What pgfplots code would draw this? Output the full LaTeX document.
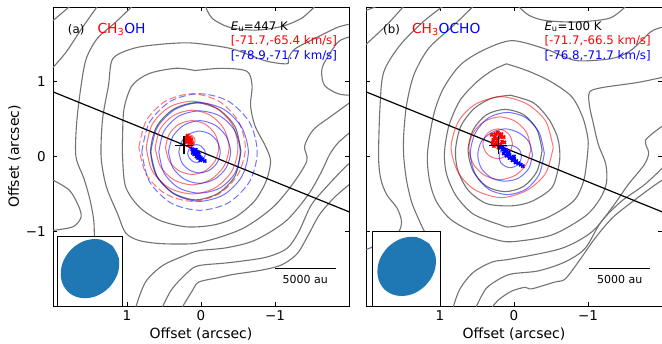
\documentclass[border=0pt]{standalone}
\usepackage{pgfplots}
\pgfplotsset{compat=1.18}
\usepackage{fontspec}
\setmainfont{DejaVu Sans}
\definecolor{cgray}{RGB}{115,115,115}
\definecolor{beam}{RGB}{31,119,180}
\tikzset{
 txt/.style={anchor=base west, inner sep=0pt, font=\fontsize{11.8bp}{13bp}\selectfont},
 big/.style={anchor=base west, inner sep=0pt, font=\fontsize{13.8bp}{16bp}\selectfont},
}
\pgfplotsset{
 panel/.style={
   width=296bp, height=299bp, scale only axis,
   xmin=-2, xmax=2, ymin=-2, ymax=2, x dir=reverse,
   xtick={-1,0,1}, ytick={-1,0,1},
   xticklabels={−1,0,1},
   tick align=inside, tick pos=both, ticklabel pos=left,
   major tick length=4bp,
   every tick/.style={black, line width=0.8bp},
   axis line style={line width=0.9bp},
   tick label style={font=\fontsize{13.5bp}{16bp}\selectfont},
   xticklabel style={anchor=north, inner sep=0pt, yshift=-4bp},
   yticklabel style={anchor=east, inner sep=0pt, xshift=-7bp},
   label style={font=\fontsize{14bp}{16bp}\selectfont},
   xlabel={Offset (arcsec)},
   xlabel style={at={(axis description cs:0.5,-0.0736)}, anchor=north, inner sep=0pt},
   clip=true,
 },
 gc/.style={cgray, line width=1.1bp, smooth, tension=0.5, no markers},
 rc/.style={red, draw opacity=0.55, line width=1bp, smooth, tension=0.5, no markers},
 bc/.style={blue, draw opacity=0.55, line width=1bp, smooth, tension=0.5, no markers},
 dsh/.style={dash pattern=on 7bp off 3bp},
 rm/.style={only marks, mark=x, mark size=2.2bp, red, line width=1.6bp},
 bm/.style={only marks, mark=x, mark size=2.2bp, blue, line width=1.6bp},
}
\begin{document}
\begin{tikzpicture}
\path[use as bounding box] (0,0) rectangle (662bp,344bp);
%================ PANEL A
\begin{axis}[panel, at={(53bp,38bp)}, anchor=south west,
  yticklabels={−1,0,1},
  ylabel={Offset (arcsec)},
  ylabel style={at={(axis description cs:-0.108,0.5)}, anchor=south, inner sep=0pt}]
% gray contours
\addplot[gc] coordinates {(-0.54,0.07) (-0.46,0.40) (-0.235,0.63) (0.07,0.72) (0.375,0.63) (0.60,0.40) (0.68,0.07) (0.60,-0.26) (0.375,-0.49) (0.07,-0.58) (-0.235,-0.49) (-0.46,-0.26) (-0.54,0.07)};
\addplot[gc] coordinates {(0.08,1.15) (0.34,1.18) (0.70,1.11) (0.93,0.95) (1.04,0.64) (1.06,0.25) (1.06,0.0) (1.02,-0.40) (0.84,-0.67) (0.57,-0.85) (0.21,-0.94) (-0.15,-0.92) (-0.45,-0.82) (-0.72,-0.60) (-0.88,-0.33) (-0.94,-0.06) (-0.87,0.14) (-0.73,0.41) (-0.67,0.68) (-0.69,0.95) (-0.62,1.14) (-0.29,1.18) (0.08,1.15)};
\addplot[gc] coordinates {(-2.01,0.72) (-1.76,0.54) (-1.52,0.36) (-1.40,0.14) (-1.43,-0.06) (-1.23,-0.38) (-0.96,-0.69) (-0.55,-0.97) (0.0,-1.15) (0.34,-1.17) (0.61,-1.16) (0.85,-1.12) (1.02,-1.02) (1.13,-0.76) (1.28,-0.40) (1.35,0.0) (1.33,0.50) (1.25,0.95) (1.19,1.31) (0.90,1.45) (0.56,1.50) (0.25,1.52) (0.03,1.51) (-0.42,1.44) (-0.87,1.28) (-1.16,1.24) (-1.18,1.31) (-1.27,1.44) (-1.58,1.60) (-1.85,1.73) (-2.01,1.77)};
\addplot[gc] coordinates {(0.93,2.01) (1.15,1.80) (1.40,1.58) (1.55,1.31) (1.62,0.95) (1.68,0.45) (1.69,0.0) (1.58,-0.30) (1.50,-0.58) (1.45,-0.85) (1.44,-1.12) (1.44,-1.5)};
\addplot[gc] coordinates {(0.88,-2.01) (0.75,-1.68) (0.52,-1.46) (0.21,-1.32) (0.03,-1.26) (-0.35,-1.22) (-0.73,-1.12) (-1.14,-0.87) (-1.45,-0.51) (-1.63,-0.20) (-1.74,0.03) (-1.85,0.18) (-2.01,0.32)};
\addplot[gc] coordinates {(0.52,-2.01) (0.39,-1.77) (0.18,-1.55) (0.03,-1.46) (-0.38,-1.42) (-0.87,-1.35) (-1.16,-1.23) (-1.32,-1.01) (-1.49,-0.65) (-1.72,-0.38) (-1.94,-0.15) (-2.01,-0.09)};
\addplot[gc] coordinates {(0.25,-2.01) (0.12,-1.80) (0.03,-1.68) (-0.24,-1.62) (-0.42,-1.58) (-0.82,-1.52) (-1.09,-1.45) (-1.30,-1.30) (-1.45,-1.05) (-1.60,-0.78) (-1.80,-0.55) (-2.01,-0.37)};
\addplot[gc] coordinates {(-2.01,1.60) (-1.85,1.53) (-1.67,1.26) (-1.63,1.13) (-1.67,0.95) (-1.85,0.84) (-2.01,0.82)};
\addplot[gc] coordinates {(-0.06,2.01) (-0.15,1.85) (-0.38,1.73) (-0.73,1.69) (-1.09,1.74) (-1.36,1.85) (-1.54,2.01)};
\addplot[gc] coordinates {(2.01,-0.31) (1.78,-0.45) (1.66,-0.65) (1.62,-0.81) (1.73,-0.94) (2.01,-0.99)};
\addplot[gc] coordinates {(1.40,2.01) (1.62,1.70) (1.82,1.40) (2.01,1.18)};
\addplot[gc] coordinates {(1.77,2.01) (2.01,1.81)};
% black line
\addplot[black, line width=1.2bp] coordinates {(2,0.865) (-2,-0.74)};
% red contours
\addplot[rc] coordinates {(0.24,0.21) (0.23,0.25) (0.20,0.28) (0.16,0.29) (0.12,0.28) (0.09,0.25) (0.08,0.21) (0.09,0.17) (0.12,0.14) (0.16,0.13) (0.20,0.14) (0.23,0.17) (0.24,0.21)};
\addplot[rc] coordinates {(0.48,0.12) (0.43,0.30) (0.30,0.43) (0.12,0.48) (-0.06,0.43) (-0.19,0.30) (-0.24,0.12) (-0.19,-0.06) (-0.06,-0.19) (0.12,-0.24) (0.30,-0.19) (0.43,-0.06) (0.48,0.12)};
\addplot[rc] coordinates {(0.62,0.12) (0.55,0.37) (0.37,0.55) (0.12,0.62) (-0.13,0.55) (-0.31,0.37) (-0.38,0.12) (-0.31,-0.13) (-0.13,-0.31) (0.12,-0.38) (0.37,-0.31) (0.55,-0.13) (0.62,0.12)};
\addplot[rc] coordinates {(0.74,0.12) (0.66,0.43) (0.43,0.66) (0.12,0.74) (-0.19,0.66) (-0.42,0.43) (-0.50,0.12) (-0.42,-0.19) (-0.19,-0.42) (0.12,-0.50) (0.43,-0.42) (0.66,-0.19) (0.74,0.12)};
\addplot[rc, dsh] coordinates {(0.84,0.12) (0.74,0.48) (0.48,0.74) (0.12,0.84) (-0.24,0.74) (-0.50,0.48) (-0.60,0.12) (-0.50,-0.24) (-0.24,-0.50) (0.12,-0.60) (0.48,-0.50) (0.74,-0.24) (0.84,0.12)};
% blue contours
\addplot[bc] coordinates {(0.18,0.04) (0.16,0.10) (0.12,0.14) (0.06,0.16) (0.0,0.14) (-0.04,0.10) (-0.06,0.04) (-0.04,-0.02) (0.0,-0.06) (0.06,-0.08) (0.12,-0.06) (0.16,-0.02) (0.18,0.04)};
\addplot[bc] coordinates {(0.30,0.06) (0.26,0.20) (0.16,0.30) (0.02,0.34) (-0.12,0.30) (-0.22,0.20) (-0.26,0.06) (-0.22,-0.08) (-0.12,-0.18) (0.02,-0.22) (0.16,-0.18) (0.26,-0.08) (0.30,0.06)};
\addplot[bc] coordinates {(0.44,0.06) (0.38,0.27) (0.23,0.42) (0.02,0.48) (-0.19,0.42) (-0.34,0.27) (-0.40,0.06) (-0.34,-0.15) (-0.19,-0.30) (0.02,-0.36) (0.23,-0.30) (0.38,-0.15) (0.44,0.06)};
\addplot[bc] coordinates {(0.57,0.06) (0.50,0.34) (0.30,0.54) (0.02,0.61) (-0.26,0.54) (-0.46,0.34) (-0.53,0.06) (-0.46,-0.22) (-0.26,-0.42) (0.02,-0.49) (0.30,-0.42) (0.50,-0.22) (0.57,0.06)};
\addplot[bc] coordinates {(0.68,0.06) (0.59,0.39) (0.35,0.63) (0.02,0.72) (-0.31,0.63) (-0.55,0.39) (-0.64,0.06) (-0.55,-0.27) (-0.31,-0.51) (0.02,-0.60) (0.35,-0.51) (0.59,-0.27) (0.68,0.06)};
\addplot[bc, dsh] coordinates {(0.80,0.06) (0.70,0.45) (0.41,0.74) (0.02,0.84) (-0.37,0.74) (-0.66,0.45) (-0.76,0.06) (-0.66,-0.33) (-0.37,-0.62) (0.02,-0.72) (0.41,-0.62) (0.70,-0.33) (0.80,0.06)};
% markers
\addplot[rm] coordinates {(0.17,0.22) (0.14,0.20) (0.20,0.20) (0.15,0.25) (0.19,0.25) (0.16,0.18) (0.21,0.23) (0.13,0.23) (0.18,0.28) (0.12,0.18) (0.22,0.19)};
\addplot[bm] coordinates {(0.12,0.10) (0.10,0.08) (0.08,0.06) (0.06,0.04) (0.04,0.02) (0.02,0.0) (0.0,-0.02) (-0.02,-0.04) (-0.05,-0.06) (0.09,0.03) (0.06,0.0) (0.04,-0.02) (0.11,0.05) (0.07,0.09) (0.03,0.05) (0.01,-0.05)};
\addplot[only marks, mark=+, mark size=9bp, black, line width=1.5bp] coordinates {(0.23,0.15)};
% beam inset
\addplot[draw=black, fill=white, line width=0.9bp] coordinates {(1.94,-1.07) (1.065,-1.07) (1.065,-2.0) (1.94,-2.0)} --cycle;
\addplot[fill=beam, draw=none, smooth, tension=0.6] coordinates {(1.196,-1.196) (1.364,-1.110) (1.569,-1.127) (1.755,-1.245) (1.873,-1.431) (1.890,-1.636) (1.804,-1.804) (1.636,-1.890) (1.431,-1.873) (1.245,-1.755) (1.127,-1.569) (1.110,-1.364) (1.196,-1.196)};
% scale bar
\addplot[black, line width=1bp] coordinates {(-1.0,-1.5) (-1.82,-1.5)};
\node[anchor=base, inner sep=0pt, font=\fontsize{11bp}{13bp}\selectfont] at (axis cs:-1.41,-1.70) {5000 au};
% texts
\node[txt] at (axis cs:1.80,1.65) {(a)};
\node[big] at (axis cs:1.40,1.65) {\textcolor{red}{CH\textsubscript{3}}\textcolor{blue}{OH}};
\node[txt] at (axis cs:-0.40,1.69) {\textit{E}\textsubscript{u}=447 K};
\node[txt, red] at (axis cs:-0.40,1.50) {[-71.7,-65.4 km/s]};
\node[txt, blue] at (axis cs:-0.40,1.30) {[-78.9,-71.7 km/s]};
\end{axis}
%================ PANEL B
\begin{axis}[panel, at={(366bp,38bp)}, anchor=south west, yticklabels={}]
\addplot[gc] coordinates {(-0.38,0.08) (-0.31,0.36) (-0.13,0.56) (0.12,0.63) (0.37,0.56) (0.55,0.36) (0.62,0.08) (0.55,-0.20) (0.37,-0.40) (0.12,-0.47) (-0.13,-0.40) (-0.31,-0.20) (-0.38,0.08)};
\addplot[gc] coordinates {(0.05,0.82) (-0.26,0.72) (-0.47,0.50) (-0.59,0.25) (-0.62,0.03) (-0.60,-0.15) (-0.51,-0.42) (-0.24,-0.60) (0.03,-0.66) (0.37,-0.63) (0.62,-0.45) (0.76,-0.18) (0.79,0.09) (0.72,0.40) (0.54,0.64) (0.30,0.78) (0.05,0.82)};
\addplot[gc] coordinates {(0.10,1.24) (-0.20,1.14) (-0.50,1.00) (-0.78,0.80) (-0.93,0.52) (-1.00,0.23) (-0.99,0.0) (-0.94,-0.33) (-0.80,-0.60) (-0.42,-0.83) (0.03,-0.94) (0.20,-0.91) (0.55,-0.77) (0.78,-0.53) (0.91,-0.24) (0.94,0.05) (0.88,0.41) (0.73,0.75) (0.50,1.00) (0.28,1.16) (0.10,1.24)};
\addplot[gc] coordinates {(-2.01,1.06) (-1.67,0.99) (-1.18,0.92) (-1.02,0.86) (-1.02,0.68) (-1.07,0.45) (-1.14,0.16) (-1.24,-0.10) (-1.25,-0.35) (-1.16,-0.57) (-0.96,-0.80) (-0.51,-1.05) (0.03,-1.14) (0.29,-1.10) (0.60,-0.99) (0.87,-0.83) (1.05,-0.60) (1.14,-0.33) (1.17,0.03) (1.09,0.54) (0.96,0.90) (0.73,1.22) (0.42,1.42) (0.03,1.55) (-0.42,1.44) (-0.64,1.35) (-0.87,1.28) (-1.32,1.31) (-1.58,1.42) (-1.85,1.67) (-2.01,1.73)};
\addplot[gc] coordinates {(0.55,2.01) (0.82,1.75) (1.15,1.45) (1.35,1.10) (1.45,0.70) (1.49,0.30) (1.49,0.0) (1.45,-0.33) (1.38,-0.62) (1.27,-0.88) (1.17,-1.10) (1.10,-1.40) (1.06,-1.70) (1.05,-2.01)};
\addplot[gc] coordinates {(0.82,-2.01) (0.73,-1.77) (0.55,-1.55) (0.29,-1.41) (0.03,-1.37) (-0.64,-1.23) (-1.05,-1.01) (-1.32,-0.69) (-1.54,-0.38) (-1.76,-0.11) (-1.82,0.05) (-1.78,0.22) (-2.01,0.41)};
\addplot[gc] coordinates {(0.51,-2.01) (0.38,-1.77) (0.20,-1.64) (0.03,-1.57) (-0.33,-1.53) (-0.69,-1.41) (-0.96,-1.23) (-1.18,-0.87) (-1.45,-0.60) (-1.76,-0.38) (-2.01,-0.15)};
\addplot[gc] coordinates {(0.29,-2.01) (0.20,-1.91) (0.03,-1.80) (-0.15,-1.75) (-0.24,-1.77) (-0.55,-1.68) (-0.69,-1.64) (-0.87,-1.41) (-1.09,-1.10) (-1.32,-0.83) (-1.54,-0.65) (-1.85,-0.42) (-2.01,-0.31)};
\addplot[gc] coordinates {(0.96,2.01) (1.23,1.80) (1.54,1.49) (1.76,1.13) (1.81,0.68) (1.83,0.0) (1.80,-0.30) (1.72,-0.51) (1.58,-0.69) (1.52,-0.87) (1.56,-1.01) (1.70,-1.12) (2.01,-1.25)};
\addplot[gc] coordinates {(1.49,2.01) (1.72,1.76) (2.01,1.49)};
\addplot[gc] coordinates {(1.85,2.01) (2.01,1.95)};
\addplot[gc] coordinates {(-0.06,2.01) (-0.20,1.89) (-0.42,1.82) (-0.84,1.80) (-1.29,1.85) (-1.51,2.01)};
\addplot[black, line width=1.2bp] coordinates {(2,0.865) (-2,-0.74)};
% red
\addplot[rc] coordinates {(-0.53,0.12) (-0.43,0.47) (-0.18,0.70) (0.17,0.80) (0.52,0.70) (0.75,0.47) (0.85,0.12) (0.75,-0.22) (0.52,-0.45) (0.17,-0.55) (-0.18,-0.45) (-0.43,-0.22) (-0.53,0.12)};
\addplot[rc] coordinates {(-0.23,0.11) (-0.17,0.32) (-0.02,0.47) (0.19,0.53) (0.40,0.47) (0.55,0.32) (0.61,0.11) (0.55,-0.10) (0.40,-0.25) (0.19,-0.31) (-0.02,-0.25) (-0.17,-0.10) (-0.23,0.11)};
\addplot[rc] coordinates {(0.02,0.17) (0.05,0.27) (0.12,0.34) (0.22,0.37) (0.32,0.34) (0.39,0.27) (0.42,0.17) (0.39,0.07) (0.32,0.0) (0.22,-0.03) (0.12,0.0) (0.05,0.07) (0.02,0.17)};
% blue
\addplot[bc] coordinates {(-0.41,0.04) (-0.34,0.32) (-0.16,0.52) (0.09,0.59) (0.34,0.52) (0.52,0.32) (0.59,0.04) (0.52,-0.24) (0.34,-0.44) (0.09,-0.51) (-0.16,-0.44) (-0.34,-0.24) (-0.41,0.04)};
\addplot[bc] coordinates {(-0.25,0.02) (-0.20,0.20) (-0.06,0.32) (0.12,0.37) (0.30,0.32) (0.44,0.20) (0.49,0.02) (0.44,-0.16) (0.30,-0.29) (0.12,-0.33) (-0.06,-0.29) (-0.20,-0.16) (-0.25,0.02)};
\addplot[bc] coordinates {(-0.10,0.0) (-0.08,0.08) (-0.02,0.13) (0.05,0.15) (0.12,0.13) (0.18,0.08) (0.20,0.0) (0.18,-0.08) (0.12,-0.13) (0.05,-0.15) (-0.02,-0.13) (-0.08,-0.08) (-0.10,0.0)};
\addplot[rm] coordinates {(0.22,0.22) (0.18,0.26) (0.26,0.26) (0.20,0.30) (0.24,0.18) (0.16,0.20) (0.28,0.22) (0.22,0.32) (0.18,0.16) (0.27,0.14) (0.14,0.26) (0.30,0.29) (0.21,0.12) (0.25,0.30) (0.17,0.30) (0.29,0.18) (0.13,0.19) (0.24,0.24)};
\addplot[bm] coordinates {(0.18,0.12) (0.15,0.09) (0.12,0.07) (0.09,0.04) (0.06,0.02) (0.03,-0.01) (0.0,-0.04) (-0.03,-0.06) (-0.06,-0.09) (-0.09,-0.11) (-0.12,-0.13) (0.14,0.04) (0.10,0.01) (0.06,-0.02) (0.02,-0.05) (-0.02,-0.08) (0.16,0.12) (0.11,0.09) (0.07,0.06) (0.0,0.0)};
\addplot[only marks, mark=+, mark size=9bp, black, line width=1.5bp] coordinates {(0.21,0.15)};
\addplot[draw=black, fill=white, line width=0.9bp] coordinates {(1.91,-1.0) (0.99,-1.0) (0.99,-2.0) (1.91,-2.0)} --cycle;
\addplot[fill=beam, draw=none, smooth, tension=0.6] coordinates {(1.146,-1.166) (1.314,-1.080) (1.519,-1.097) (1.705,-1.215) (1.823,-1.401) (1.840,-1.606) (1.754,-1.774) (1.586,-1.860) (1.381,-1.843) (1.195,-1.725) (1.077,-1.539) (1.060,-1.334) (1.146,-1.166)};
\addplot[black, line width=1bp] coordinates {(-1.01,-1.5) (-1.84,-1.5)};
\node[anchor=base, inner sep=0pt, font=\fontsize{11bp}{13bp}\selectfont] at (axis cs:-1.43,-1.70) {5000 au};
\node[txt] at (axis cs:1.77,1.65) {(b)};
\node[big] at (axis cs:1.38,1.65) {\textcolor{red}{CH\textsubscript{3}}\textcolor{blue}{OCHO}};
\node[txt] at (axis cs:-0.41,1.69) {\textit{E}\textsubscript{u}=100 K};
\node[txt, red] at (axis cs:-0.41,1.50) {[-71.7,-66.5 km/s]};
\node[txt, blue] at (axis cs:-0.41,1.30) {[-76.8,-71.7 km/s]};
\end{axis}
\end{tikzpicture}
\end{document}
